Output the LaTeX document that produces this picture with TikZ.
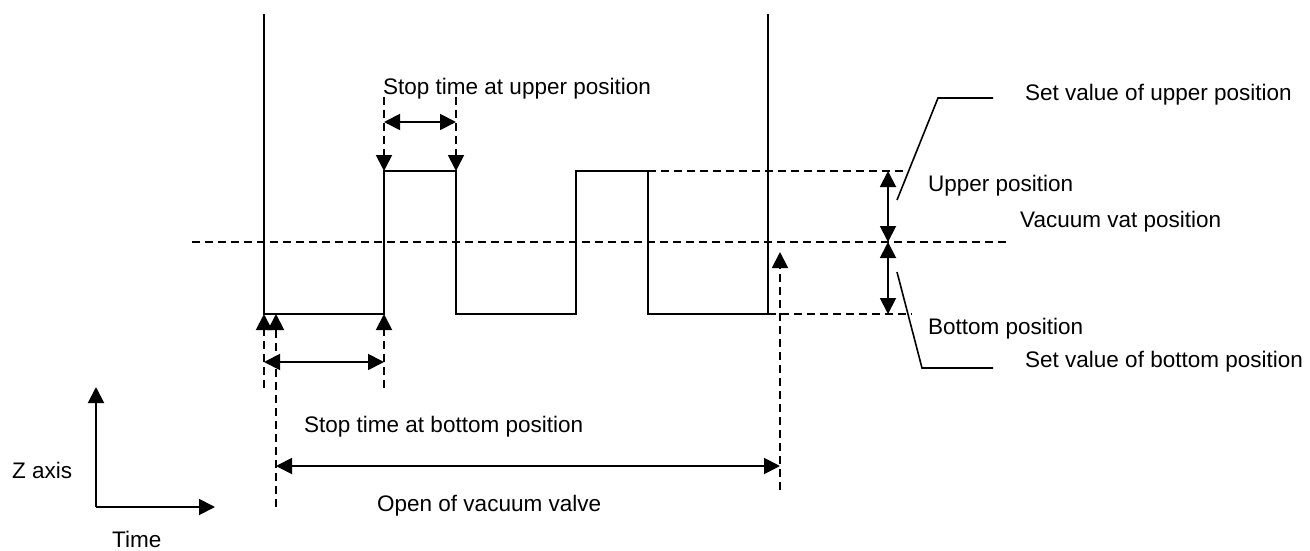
\documentclass[tikz,border=0pt]{standalone}
\usepackage{fontspec}
\setmainfont{Liberation Sans}
\usetikzlibrary{arrows.meta}
\tikzset{
  wave/.style={line width=1.9pt},
  dashline/.style={line width=1.9pt, dash pattern=on 8pt off 5pt},
  tip/.style={-{Triangle[length=16pt,width=16pt]}},
  tips/.style={{Triangle[length=16pt,width=16pt]}-{Triangle[length=16pt,width=16pt]}},
  arrowline/.style={line width=1.9pt},
  lbl/.style={anchor=base west, inner sep=0pt, font=\fontsize{22.5}{26}\selectfont},
  leader/.style={line width=1.6pt}
}
\begin{document}
\begin{tikzpicture}[x=1pt,y=-1pt]
\path[use as bounding box] (0,0) rectangle (1310,551);
% key coordinates
\coordinate (Ltop) at (264,14);
\coordinate (L0) at (264,314);
\coordinate (R1b) at (384,314);
\coordinate (R1t) at (384,171);
\coordinate (F1t) at (456,171);
\coordinate (F1b) at (456,314);
\coordinate (R2b) at (576,314);
\coordinate (R2t) at (576,171);
\coordinate (F2t) at (648,171);
\coordinate (F2b) at (648,314);
\coordinate (Rb) at (768,314);
\coordinate (Rtop) at (768,14);
% waveform
\draw[wave] (Ltop) -- (L0) -- (R1b) -- (R1t) -- (F1t) -- (F1b) -- (R2b) -- (R2t) -- (F2t) -- (F2b) -- (Rb) -- (Rtop);
% dashed reference lines
\coordinate (vatL) at (192,242);
\coordinate (vatR) at (1008,242);
\coordinate (upR) at (908,171);
\coordinate (botR) at (912,314);
\draw[dashline] (vatL) -- (vatR);
\draw[dashline] (F2t) -- (upR);
\draw[dashline] (Rb) -- (botR);
% vertical position arrows
\coordinate (Au) at (888,171);
\coordinate (Am) at (888,242);
\coordinate (Ab) at (888,314);
\draw[arrowline,tips] (Au) -- (Am);
\draw[arrowline,tips] (Am) -- (Ab);
% leaders
\coordinate (lu1) at (897,200);
\coordinate (lu2) at (938,98);
\coordinate (lu3) at (993,98);
\coordinate (lb1) at (897,272);
\coordinate (lb2) at (922,368);
\coordinate (lb3) at (993,368);
\draw[leader] (lu1) -- (lu2) -- (lu3);
\draw[leader] (lb1) -- (lb2) -- (lb3);
% upper stop time
\coordinate (ut1) at (384,97);
\coordinate (ut2) at (456,97);
\draw[dashline,tip] (ut1) -- (R1t);
\draw[dashline,tip] (ut2) -- (F1t);
\coordinate (uh1) at (384,122);
\coordinate (uh2) at (456,122);
\draw[arrowline,tips] (uh1) -- (uh2);
% bottom stop time
\coordinate (b1) at (264,388);
\coordinate (b2) at (276,507);
\coordinate (b3) at (384,388);
\coordinate (L0b) at (276,314);
\draw[dashline,tip] (b1) -- (L0);
\draw[dashline,tip] (b2) -- (L0b);
\draw[dashline,tip] (b3) -- (R1b);
\coordinate (bh1) at (264,362);
\coordinate (bh2) at (384,362);
\draw[arrowline,tips] (bh1) -- (bh2);
% vacuum valve
\coordinate (vv1) at (780,490);
\coordinate (vv2) at (780,252);
\draw[dashline,tip] (vv1) -- (vv2);
\coordinate (oh1) at (276,466);
\coordinate (oh2) at (780,466);
\draw[arrowline,tips] (oh1) -- (oh2);
% axes
\coordinate (O) at (96,507);
\coordinate (Zt) at (96,387);
\coordinate (Tt) at (215,507);
\draw[arrowline,tip] (O) -- (Zt);
\draw[arrowline,tip] (O) -- (Tt);
% labels
\node[lbl] (tUpStop) at (383,95) {Stop time at upper position};
\node[lbl] (tSetUp) at (1025,100) {Set value of upper position};
\node[lbl] (tUp) at (928,191) {Upper position};
\node[lbl] (tVat) at (1020,227) {Vacuum vat position};
\node[lbl] (tBot) at (928,334) {Bottom position};
\node[lbl] (tSetBot) at (1025,367) {Set value of bottom position};
\node[lbl] (tBotStop) at (304,432) {Stop time at bottom position};
\node[lbl] (tOpen) at (377,511) {Open of vacuum valve};
\node[lbl] (tZ) at (12,478) {Z axis};
\node[lbl] (tTime) at (112,547) {Time};
\end{tikzpicture}
\end{document}
